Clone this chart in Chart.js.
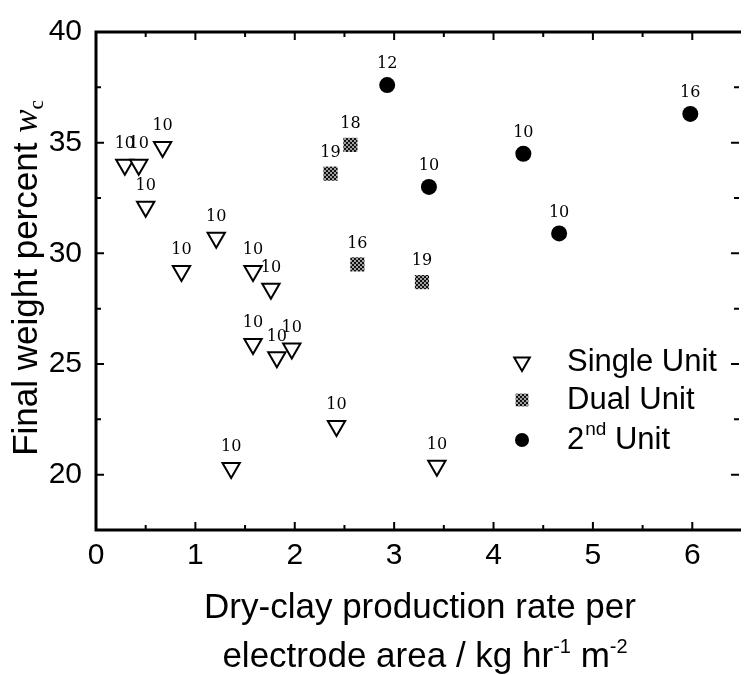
<!DOCTYPE html>
<html>
<head>
<meta charset="utf-8">
<script src="https://cdn.jsdelivr.net/npm/chart.js@4.4.0/dist/chart.umd.min.js"></script>
<style>
  html, body { margin: 0; padding: 0; background: #fff; overflow: hidden; }
  #wrap { width: 751px; height: 675px; }
</style>
</head>
<body>
<div id="wrap"><canvas id="chart"></canvas></div>
<script>
// Valores
const singleX = [0.29, 0.43, 0.67, 0.50, 1.21, 0.86, 1.58, 1.76, 1.58, 1.82, 1.97, 1.36, 2.42, 3.43];
const singleY = [34.0, 34.0, 34.8, 32.1, 30.7, 29.2, 29.2, 28.4, 25.9, 25.3, 25.7, 20.3, 22.2, 20.4];
const singleN = [10, 10, 10, 10, 10, 10, 10, 10, 10, 10, 10, 10, 10, 10];

const dualX = [2.36, 2.56, 2.63, 3.28];
const dualY = [33.6, 34.9, 29.5, 28.7];
const dualN = [19, 18, 16, 19];

const secondX = [2.93, 3.35, 4.30, 4.66, 5.98];
const secondY = [37.6, 33.0, 34.5, 30.9, 36.3];
const secondN = [12, 10, 10, 10, 16];

const legendLabels = ['Single Unit', 'Dual Unit', '2nd Unit'];

const X_MIN = 0, X_MAX = 6.47;
const Y_MIN = 17.5, Y_MAX = 40;

const SANS = '"Liberation Sans", Arial, sans-serif';

const toPoints = (xs, ys) => xs.map((x, i) => ({ x: x, y: ys[i] }));

// Patrón a cuadros para los marcadores "Dual Unit"
function checker() {
    const c = document.createElement('canvas');
    c.width = 4; c.height = 4;
    const g = c.getContext('2d');
    g.fillStyle = '#a0a0a0';
    g.fillRect(0, 0, 4, 4);
    g.fillStyle = '#111';
    g.fillRect(0, 0, 2, 2);
    g.fillRect(2, 2, 2, 2);
    return g.createPattern(c, 'repeat');
}
const dualFill = checker();

// Marco y marcas hacia dentro en los cuatro lados
const frameTicks = {
    id: 'frameTicks',
    afterDraw(chart) {
        const { ctx, chartArea: a, scales: { x, y } } = chart;
        ctx.save();
        ctx.strokeStyle = '#000';
        ctx.lineWidth = 2;
        for (let v = X_MIN; v <= X_MAX; v += 0.5) {
            const px = x.getPixelForValue(v);
            const len = Number.isInteger(v) ? 8 : 5;
            ctx.beginPath();
            ctx.moveTo(px, a.bottom); ctx.lineTo(px, a.bottom - len);
            ctx.moveTo(px, a.top); ctx.lineTo(px, a.top + len);
            ctx.stroke();
        }
        for (let v = Y_MIN; v <= Y_MAX; v += 2.5) {
            const py = y.getPixelForValue(v);
            const len = v % 5 === 0 ? 8 : 5;
            ctx.beginPath();
            ctx.moveTo(a.left, py); ctx.lineTo(a.left + len, py);
            ctx.moveTo(a.right, py); ctx.lineTo(a.right - len, py);
            ctx.stroke();
        }
        ctx.lineWidth = 3;
        ctx.beginPath();
        ctx.moveTo(a.right + 2, a.top);
        ctx.lineTo(a.left, a.top);
        ctx.lineTo(a.left, a.bottom);
        ctx.lineTo(a.right + 2, a.bottom);
        ctx.stroke();
        ctx.restore();
    }
};

// Número de muestras encima de cada punto
const countLabels = {
    id: 'countLabels',
    afterDatasetsDraw(chart) {
        const { ctx } = chart;
        ctx.save();
        ctx.fillStyle = '#000';
        ctx.font = '16px "DejaVu Serif", serif';
        ctx.textAlign = 'center';
        ctx.textBaseline = 'middle';
        chart.data.datasets.forEach((ds, di) => {
            chart.getDatasetMeta(di).data.forEach((pt, i) => {
                ctx.fillText(String(ds.counts[i]), pt.x, pt.y - 21);
            });
        });
        ctx.restore();
    }
};

function marker(ctx, ds, cx, cy, r) {
    ctx.save();
    ctx.lineWidth = ds.borderWidth || 0;
    ctx.strokeStyle = ds.borderColor;
    ctx.fillStyle = ds.backgroundColor;
    ctx.beginPath();
    if (ds.pointStyle === 'triangle') {
        const w = r * Math.sqrt(3) / 2;
        ctx.moveTo(cx - w, cy - r / 2);
        ctx.lineTo(cx + w, cy - r / 2);
        ctx.lineTo(cx, cy + r);
        ctx.closePath();
        ctx.fill(); ctx.stroke();
    } else if (ds.pointStyle === 'rect') {
        const s = r * Math.SQRT1_2;
        ctx.rect(cx - s, cy - s, 2 * s, 2 * s);
        ctx.fill();
    } else {
        ctx.arc(cx, cy, r, 0, Math.PI * 2);
        ctx.fill();
    }
    ctx.restore();
}

// Leyenda dentro del área y títulos de los ejes (con sub/superíndices)
const decorations = {
    id: 'decorations',
    afterDraw(chart) {
        const { ctx } = chart;
        ctx.save();
        ctx.fillStyle = '#000';
        ctx.textBaseline = 'middle';
        ctx.textAlign = 'left';

        const rows = [362, 400, 440];
        const sizes = [9, 9, 7];
        chart.data.datasets.forEach((ds, i) => {
            marker(ctx, ds, 522, rows[i], sizes[i]);
        });
        ctx.font = '31px ' + SANS;
        ctx.fillText(legendLabels[0], 567, rows[0]);
        ctx.fillText(legendLabels[1], 567, rows[1]);
        let lx = 567;
        ctx.fillText('2', lx, rows[2]);
        lx += ctx.measureText('2').width;
        ctx.font = '19px ' + SANS;
        ctx.fillText('nd', lx + 1, rows[2] - 10);
        lx += ctx.measureText('nd').width + 1;
        ctx.font = '31px ' + SANS;
        ctx.fillText(' Unit', lx, rows[2]);

        // título del eje x
        ctx.textBaseline = 'alphabetic';
        ctx.font = '35px ' + SANS;
        ctx.textAlign = 'center';
        ctx.fillText('Dry-clay production rate per', 420, 618);

        const parts = [
            ['electrode area / kg hr', 35, 0],
            ['-1', 20, -14],
            [' m', 35, 0],
            ['-2', 20, -14]
        ];
        let total = 0;
        parts.forEach(p => { ctx.font = p[1] + 'px ' + SANS; total += ctx.measureText(p[0]).width; });
        let px = 425 - total / 2;
        ctx.textAlign = 'left';
        parts.forEach(p => {
            ctx.font = p[1] + 'px ' + SANS;
            ctx.fillText(p[0], px, 667 + p[2]);
            px += ctx.measureText(p[0]).width;
        });

        // título del eje y
        ctx.translate(37, 278);
        ctx.rotate(-Math.PI / 2);
        const yparts = [
            ['Final weight percent ', '35px ' + SANS, 0],
            ['w', 'italic 35px "Liberation Serif", serif', 0],
            ['c', '21px "Liberation Serif", serif', 6]
        ];
        total = 0;
        yparts.forEach(p => { ctx.font = p[1]; total += ctx.measureText(p[0]).width; });
        px = -total / 2;
        yparts.forEach(p => {
            ctx.font = p[1];
            ctx.fillText(p[0], px, p[2]);
            px += ctx.measureText(p[0]).width;
        });
        ctx.restore();
    }
};

new Chart(document.getElementById('chart').getContext('2d'), {
    type: 'scatter',
    plugins: [frameTicks, countLabels, decorations],
    data: {
        datasets: [
            {
                label: legendLabels[0],
                data: toPoints(singleX, singleY),
                counts: singleN,
                pointStyle: 'triangle',
                rotation: 180,
                radius: 10,
                backgroundColor: '#fff',
                borderColor: '#000',
                borderWidth: 2
            },
            {
                label: legendLabels[1],
                data: toPoints(dualX, dualY),
                counts: dualN,
                pointStyle: 'rect',
                radius: 10,
                backgroundColor: dualFill,
                borderColor: dualFill,
                borderWidth: 0
            },
            {
                label: legendLabels[2],
                data: toPoints(secondX, secondY),
                counts: secondN,
                pointStyle: 'circle',
                radius: 8,
                backgroundColor: '#000',
                borderColor: '#000',
                borderWidth: 0
            }
        ]
    },
    options: {
        responsive: true,
        maintainAspectRatio: false,
        animation: false,
        events: [],
        layout: { padding: { top: 28, right: 0, bottom: 0, left: 0 } },
        plugins: {
            legend: { display: false },
            tooltip: { enabled: false }
        },
        scales: {
            x: {
                type: 'linear',
                min: X_MIN,
                max: X_MAX,
                afterFit: (s) => { s.height = 145; },
                border: { display: false },
                grid: { display: false, drawTicks: false },
                ticks: {
                    stepSize: 1,
                    includeBounds: false,
                    padding: 8,
                    color: '#000',
                    font: { family: SANS, size: 30 }
                }
            },
            y: {
                type: 'linear',
                min: Y_MIN,
                max: Y_MAX,
                afterFit: (s) => { s.width = 96; },
                border: { display: false },
                grid: { display: false, drawTicks: false },
                ticks: {
                    stepSize: 5,
                    includeBounds: false,
                    padding: 14,
                    color: '#000',
                    font: { family: SANS, size: 30 }
                }
            }
        }
    }
});
</script>
</body>
</html>
